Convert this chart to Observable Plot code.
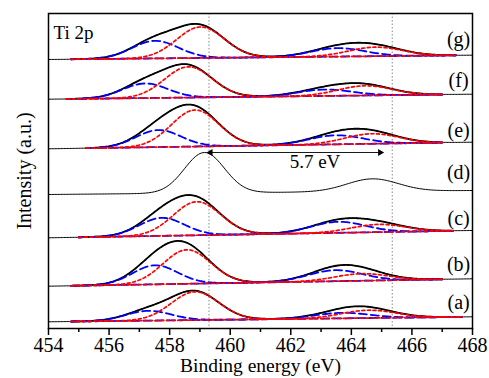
<!DOCTYPE html>
<html><head><meta charset="utf-8">
<script src="https://cdn.jsdelivr.net/npm/d3@7"></script>
<script src="https://cdn.jsdelivr.net/npm/@observablehq/plot@0.6"></script>
<style>
body{margin:0;background:#fff}
svg{display:block}
</style>
</head><body><div id="chart"></div>
<script>
// Spectra (bottom to top)
const labels = ["(a)", "(b)", "(c)", "(d)", "(e)", "(f)", "(g)"];
const labelLevel = [26, 64, 110, 156, 198, 248, 289];
// background intensity (a.u.) at 454 eV and at 468 eV
const bgLow  = [6.7, 42.3, 90.7, 134, 179.7, 229.3, 269];
const bgHigh = [11.7, 49.7, 98, 138, 186.3, 234.3, 273.3];
// fitted energy range (null: spectrum (d) has no fit)
const fitStart = [454.72, 454.72, 455.0, null, 455.21, 454.6, 454.72];
const fitEnd   = [467.65, 467.04, 467.37, null, 467.04, 467.04, 467.48];
// Ti 2p3/2 components
const red32Center  = [458.84, 458.57, 458.9, 459.15, 458.84, 458.62, 459.02];
const red32Height  = [28.3, 34, 33.5, 40.5, 36.5, 30.75, 31];
const red32Fwhm    = [1.85, 1.85, 1.85, 1.55, 1.85, 1.85, 1.85];
const blue32Center = [457.3, 457.52, 457.74, null, 457.63, 457.19, 457.52];
const blue32Height = [9.8, 19, 18, 0, 17, 14.6, 17.6];
const blue32Fwhm   = [1.75, 1.75, 1.75, 1.75, 1.75, 1.75, 1.8];
// Ti 2p1/2 components
const red12Center  = [464.57, 464.35, 464.9, 464.7, 464.68, 464.46, 464.8];
const red12Height  = [7.8, 7, 7.7, 12.6, 10, 9.7, 9];
const red12Fwhm    = [2.1, 2.1, 2.1, 2.0, 2.1, 2.1, 2.1];
const blue12Center = [463.7, 463.47, 463.57, null, 463.5, 463.13, 463.55];
const blue12Height = [5.5, 11, 11, 0, 9, 6.4, 8.4];
const blue12Fwhm   = [2.1, 2.1, 2.1, 2.1, 2.1, 2.1, 2.1];
// reference lines, splitting annotation
const refLines = [459.3, 465.35];
const splitFrom = 459.35, splitTo = 464.95, splitLevel = 176, splitText = "5.7 eV";
const xTicks = [454, 456, 458, 460, 462, 464, 466, 468];
const xMinor = [455, 457, 459, 461, 463, 465, 467];

function peak(E, c, h, fwhm) {
  if (c == null || !h) return 0;
  const s = fwhm / 2.3548;
  return h * Math.exp(-((E - c) ** 2) / (2 * s * s));
}
const grid = d3.range(0, 281).map(i => 454 + i * 0.05);

const thin = [], env = [], reds = [], blues = [];
labels.forEach((lab, i) => {
  const bg = E => bgLow[i] + (E - 454) / 14 * (bgHigh[i] - bgLow[i]);
  const comps = E => ({
    r1: peak(E, red32Center[i], red32Height[i], red32Fwhm[i]),
    b1: peak(E, blue32Center[i], blue32Height[i], blue32Fwhm[i]),
    r2: peak(E, red12Center[i], red12Height[i], red12Fwhm[i]),
    b2: peak(E, blue12Center[i], blue12Height[i], blue12Fwhm[i])
  });
  for (const E of grid) {
    const c = comps(E), b = bg(E);
    const sum = c.r1 + c.b1 + c.r2 + c.b2;
    thin.push({s: lab, E, I: b + sum});
    if (fitStart[i] != null && E >= fitStart[i] - 1e-9 && E <= fitEnd[i] + 1e-9) {
      env.push({s: lab, E, I: b + sum});
      reds.push({s: lab + "r1", E, I: b + c.r1});
      reds.push({s: lab + "r2", E, I: b + c.r2});
      blues.push({s: lab + "b1", E, I: b + c.b1});
      blues.push({s: lab + "b2", E, I: b + c.b2});
    }
  }
});

const serif = "'Liberation Serif', 'Times New Roman', Times, Tinos, 'Noto Serif', 'DejaVu Serif', Georgia, serif";
const chart = Plot.plot({
  width: 489, height: 378,
  marginLeft: 48, marginRight: 17, marginTop: 13, marginBottom: 50,
  style: {fontFamily: serif, fontSize: "20px", background: "#fff", color: "#000"},
  x: {domain: [454, 468], label: null},
  y: {domain: [0, 315], axis: null},
  marks: [
    Plot.ruleX(refLines, {stroke: "#8a8a8a", strokeWidth: 1, strokeDasharray: "1.5,2"}),
    Plot.line(thin, {x: "E", y: "I", z: "s", stroke: "black", strokeWidth: 1}),
    Plot.line(env, {x: "E", y: "I", z: "s", stroke: "black", strokeWidth: 1.8}),
    Plot.line(blues, {x: "E", y: "I", z: "s", stroke: "#0000ff", strokeWidth: 1.8, strokeDasharray: "8,4"}),
    Plot.line(reds, {x: "E", y: "I", z: "s", stroke: "#ff0000", strokeWidth: 1.7, strokeDasharray: "3,2.6"}),
    Plot.link([0], {x1: () => splitFrom, x2: () => splitTo, y1: () => splitLevel, y2: () => splitLevel, stroke: "black", strokeWidth: 0.9}),
    Plot.dot([{x: splitFrom, a: -90}, {x: splitTo, a: 90}], {x: "x", y: () => splitLevel, symbol: "triangle", r: 2.6, fill: "black", stroke: null, rotate: "a"}),
    Plot.text([splitText], {x: () => 462.8, y: () => splitLevel - 9.7, text: d => d, fontSize: 19, fontFamily: serif}),
    Plot.text(labels, {x: () => 467.54, y: (d, i) => labelLevel[i], text: d => d, fontSize: 20, fontFamily: serif}),
    Plot.text(["Ti 2p"], {frameAnchor: "top-left", dx: 5, dy: 19, text: d => d, textAnchor: "start", lineAnchor: "middle", fontSize: 19, fontFamily: serif}),
    Plot.frame({stroke: "black", strokeWidth: 1.5}),
    Plot.axisX(xTicks, {tickSize: 7, tickPadding: 2, strokeWidth: 1.5, label: null, fontSize: 20, fontFamily: serif}),
    Plot.axisX(xMinor, {tickSize: 4, strokeWidth: 1.5, tickFormat: () => "", label: null}),
    Plot.text(["Binding energy (eV)"], {frameAnchor: "bottom", dy: 37, text: d => d, textAnchor: "middle", lineAnchor: "middle", fontSize: 19.5, fontFamily: serif}),
    Plot.text(["Intensity (a.u.)"], {frameAnchor: "left", dx: -24, rotate: -90, text: d => d, textAnchor: "middle", lineAnchor: "middle", fontSize: 20, fontFamily: serif})
  ]
});
document.getElementById("chart").append(chart);
</script></body></html>
